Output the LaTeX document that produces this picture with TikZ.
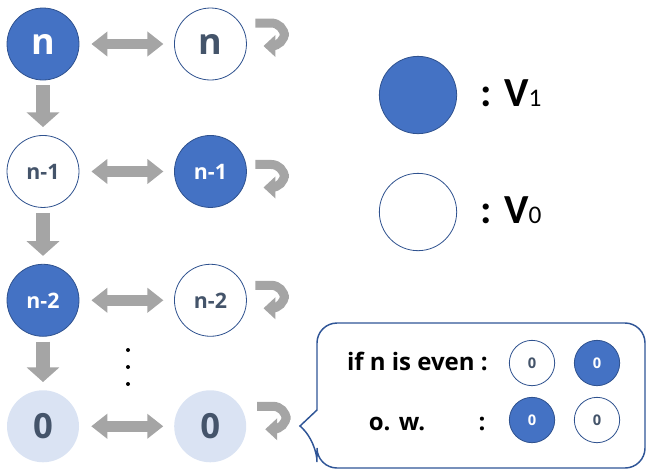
\documentclass[tikz,border=0pt]{standalone}
\usepackage{fontspec}
\setmainfont{Open Sans}
\newfontfamily\legfont{Carlito}
\usetikzlibrary{arrows.meta,positioning}
\definecolor{vBlue}{HTML}{4472C4}
\definecolor{vEdge}{HTML}{2F528F}
\definecolor{vInk}{HTML}{44546A}
\definecolor{vPale}{HTML}{DAE3F3}
\definecolor{vGray}{HTML}{A5A5A5}
\definecolor{vFrame}{HTML}{2F5597}
\newcommand\legidx[1]{{\mdseries\fontsize{19}{19}\selectfont #1}}
\tikzset{
  vone/.style={
    circle, draw=vEdge, line width=0.6pt, fill=vBlue, text=white,
    minimum size=54pt, inner sep=0pt
  },
  vzero/.style={
    circle, draw=vEdge, line width=0.6pt, fill=white, text=vInk,
    minimum size=54pt, inner sep=0pt
  },
  vpale/.style={
    circle, draw=none, fill=vPale, text=vInk,
    minimum size=54pt, inner sep=0pt
  },
  vmini/.style={minimum size=34pt, font=\bfseries\fontsize{11}{11}\selectfont},
  tbig/.style={font=\bfseries\fontsize{27}{27}\selectfont},
  tmid/.style={font=\bfseries\fontsize{16}{16}\selectfont},
  tzero/.style={font=\bfseries\fontsize{26}{26}\selectfont},
  downarr/.style={-{Triangle[length=11pt,width=24pt]}, draw=vGray, line width=11pt,
    shorten <=3.75pt, shorten >=6pt},
  swaparr/.style={{Triangle[length=12pt,width=18pt]}-{Triangle[length=12pt,width=18pt]},
    draw=vGray, line width=8pt, shorten <=9pt, shorten >=8pt},
  hookarr/.style={-{Triangle[length=9pt,width=16pt]}, draw=vGray, line width=6.75pt,
    rounded corners=10pt},
  legtxt/.style={font=\legfont\bfseries\fontsize{31}{31}\selectfont, inner sep=0pt},
  cotext/.style={font=\bfseries\fontsize{18}{18}\selectfont, inner sep=0pt},
  callout/.style={draw=vFrame, line width=1.1pt, fill=white}
}
\begin{document}
\begin{tikzpicture}[x=0.75pt,y=-0.75pt]
\useasboundingbox (0,0) rectangle (648,472);

% Left column
\node[vone, tbig] (ln) at (43,44) {n};
\node[vzero, tmid, below=41pt of ln] (ln1) {n-1};
\node[vone, tmid, below=42pt of ln1] (ln2) {n-2};
\node[vpale, tzero, below=40pt of ln2] (lz) {0};

% Right column
\node[vzero, tbig, right=71pt of ln] (rn) {n};
\node[vone, tmid, right=71pt of ln1] (rn1) {n-1};
\node[vzero, tmid, right=71pt of ln2] (rn2) {n-2};
\node[vpale, tzero, right=71pt of lz] (rz) {0};

% Arrows down
\draw[downarr] (ln) -- (ln1);
\draw[downarr] (ln1) -- (ln2);
\draw[downarr] (ln2) -- (lz);

% Arrows across
\draw[swaparr] (ln) -- (rn);
\draw[swaparr] (ln1) -- (rn1);
\draw[swaparr] (ln2) -- (rn2);
\draw[swaparr] (lz) -- (rz);

% Self loops
\draw[hookarr] ([shift={(45,-21)}]rn.center) -- ++(29,0) -- ++(0,23) -- ++(-21,0);
\draw[hookarr] ([shift={(45,-7)}]rn1.center) -- ++(29,0) -- ++(0,23) -- ++(-21,0);
\draw[hookarr] ([shift={(45,-15)}]rn2.center) -- ++(29,0) -- ++(0,23) -- ++(-21,0);
\draw[hookarr] ([shift={(47,-20)}]rz.center) -- ++(29,0) -- ++(0,23) -- ++(-21,0);

% Dots
\foreach \y in {350,367,384}
  \fill (128,\y) circle (1.5pt);

% Legend
\node[vone, minimum size=58pt] (legone) at (418,95) {};
\node[vzero, minimum size=58pt] (legzero) at (418,212) {};
\node[legtxt, anchor=base west] (legonetxt) at (480,106) {: V\legidx{1}};
\node[legtxt, anchor=base west] (legzerotxt) at (480,223) {: V\legidx{0}};

% Callout
\draw[callout] (300,426) -- (317,410) [rounded corners=15pt] -- (317,323) -- (645,323)
  -- (645,468) -- (317,468) -- (317,442) [sharp corners] -- cycle;
\node[cotext, anchor=base east] (even) at (488,370) {if n is even :};
\node[cotext, anchor=base] (ow) at (397,430) {o. w.};
\node[cotext, anchor=base] (owcolon) at (482,430) {:};
\node[vzero, vmini] (evA) at (532,363) {0};
\node[vone, vmini] (evB) at (597,363) {0};
\node[vone, vmini] (owA) at (532,420) {0};
\node[vzero, vmini] (owB) at (597,420) {0};

\end{tikzpicture}
\end{document}
